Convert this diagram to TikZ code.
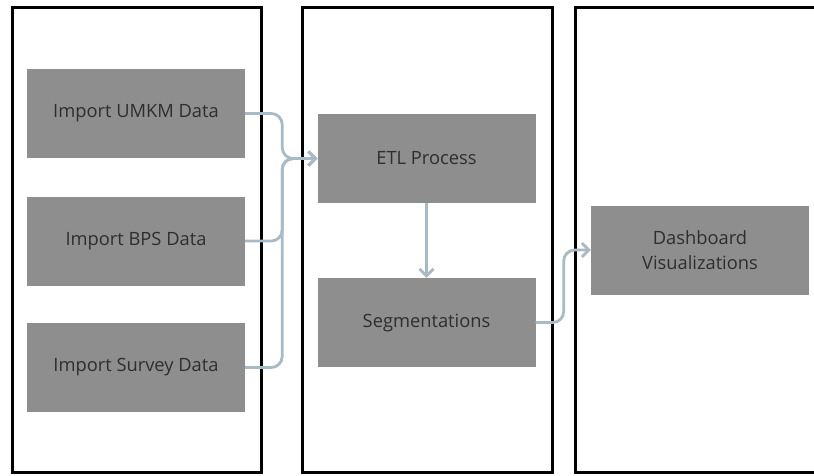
\documentclass[tikz,border=0pt]{standalone}
\usepackage{fontspec}
\setmainfont{Open Sans}
\usetikzlibrary{arrows.meta}
\definecolor{boxgray}{HTML}{8E8E8E}
\definecolor{txtgray}{HTML}{2E2E2E}
\definecolor{linkblue}{HTML}{A8BAC6}
\tikzset{
  panel/.style={draw=black, line width=3pt},
  procbox/.style={fill=boxgray, draw=none, minimum width=218pt, minimum height=89pt, inner sep=0pt,
    text=txtgray, font=\fontsize{18.3}{25}\selectfont, align=center},
  link/.style={draw=linkblue, line width=2.8pt, rounded corners=11pt,
    -{Straight Barb[length=7pt,width=14pt,line width=2.8pt]}},
}
\begin{document}
\begin{tikzpicture}[x=1pt,y=-1pt]
\clip (0,0) rectangle (814,475);
\fill[white] (0,0) rectangle (814,475);
\draw[panel] (12,7) rectangle (261,472);
\draw[panel] (302,7) rectangle (552,472);
\draw[panel] (575,7) rectangle (840,472);
\node[procbox] (umkm) at (136,113.5) {Import UMKM Data};
\node[procbox] (bps) at (136,241) {Import BPS Data};
\node[procbox] (survey) at (136,367.5) {Import Survey Data};
\node[procbox] (etl) at (426.5,158.5) {ETL Process};
\node[procbox] (seg) at (426.5,322.5) {Segmentations};
\node[procbox] (dash) at (700,250) {Dashboard\\Visualizations};
\draw[link] (umkm.east) -- ++(37,0) |- (etl.west);
\draw[link] (bps.east) -- ++(37,0) |- (etl.west);
\draw[link] (survey.east) -- ++(37,0) |- (etl.west);
\draw[link] (etl.south) -- (seg.north);
\draw[link] (seg.east) -- ++(28,0) |- (dash.west);
\end{tikzpicture}
\end{document}
